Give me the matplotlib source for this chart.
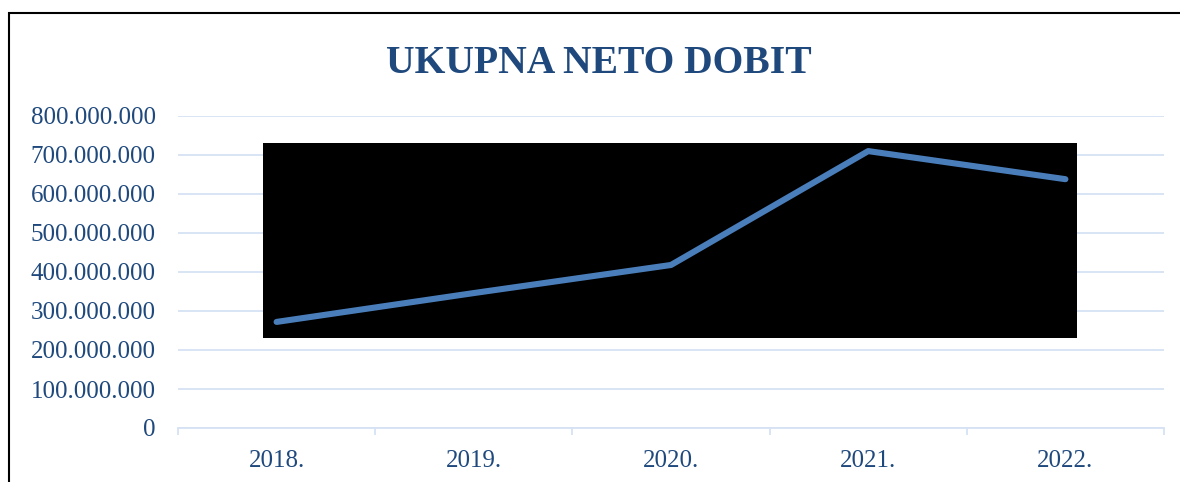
import matplotlib
matplotlib.use("Agg")
import matplotlib.pyplot as plt
import matplotlib.ticker as mticker
from matplotlib.patches import Rectangle

years = ["2018.", "2019.", "2020.", "2021.", "2022."]
profit = [272000000, 346000000, 418000000, 710000000, 638000000]
y_ticks = [0, 100000000, 200000000, 300000000, 400000000,
           500000000, 600000000, 700000000, 800000000]

# black block sitting behind the line (x in category units, y in values)
box_x = [-0.07, 4.06]
box_y = [231000000, 731000000]

text_col = "#1f497d"
line_col = "#4a7ebb"
grid_col = "#d6e2f3"

plt.rcParams["font.family"] = ["Liberation Serif", "DejaVu Serif"]

fig = plt.figure(figsize=(11.8, 4.82), dpi=100)
ax = fig.add_axes([178 / 1180, 1 - 428 / 482, 986 / 1180, 312 / 482])

x = list(range(len(years)))

ax.add_patch(Rectangle((box_x[0], box_y[0]), box_x[1] - box_x[0],
                       box_y[1] - box_y[0], facecolor="black",
                       edgecolor="none", zorder=1))
ax.plot(x, profit, color=line_col, lw=4.4, solid_capstyle="round",
        solid_joinstyle="round", zorder=3)

ax.set_xlim(-0.5, len(years) - 0.5)
ax.set_ylim(0, 800000000)
ax.set_yticks(y_ticks)
ax.yaxis.set_major_formatter(
    mticker.FuncFormatter(lambda v, p: f"{int(v):,}".replace(",", ".")))
ax.grid(axis="y", color=grid_col, lw=1.3, zorder=0)
ax.set_axisbelow(True)

# category boundaries get the tick marks, centers get the labels
ax.set_xticks([i - 0.5 for i in range(len(years) + 1)])
ax.set_xticklabels([])
ax.set_xticks(x, minor=True)
ax.set_xticklabels(years, minor=True)
ax.tick_params(axis="x", which="major", length=5, width=1.3,
               color=grid_col, direction="out")
ax.tick_params(axis="x", which="minor", length=0, pad=16,
               labelsize=18, labelcolor=text_col)
ax.tick_params(axis="y", length=0, pad=16, labelsize=18,
               labelcolor=text_col)

for s in ["top", "right", "left"]:
    ax.spines[s].set_visible(False)
ax.spines["bottom"].set_color(grid_col)
ax.spines["bottom"].set_linewidth(1.3)

fig.text(599 / 1180, 1 - 73 / 482, "UKUPNA NETO DOBIT", ha="center",
         va="baseline", fontsize=28.5, fontweight="bold", color=text_col)

# outer frame of the chart
fig.patches.append(Rectangle((8.5 / 1180, -0.1), 1.2, 1 - 12.5 / 482 + 0.1,
                             transform=fig.transFigure, fill=False,
                             edgecolor="black", lw=1.5))

fig.savefig("out.png", dpi=100)
